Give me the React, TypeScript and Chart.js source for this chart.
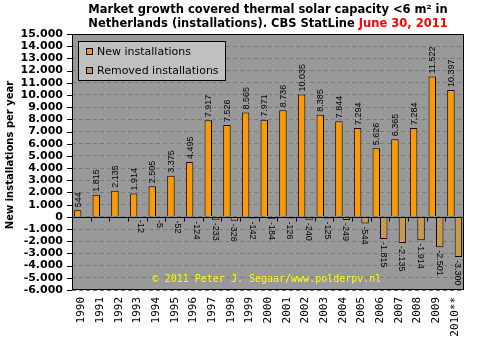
import React, { useEffect, useRef } from 'react';
import { Chart, registerables } from 'chart.js';

Chart.register(...registerables);

const years = ['1990', '1991', '1992', '1993', '1994', '1995', '1996', '1997', '1998', '1999', '2000', '2001', '2002', '2003', '2004', '2005', '2006', '2007', '2008', '2009', '2010**'];
const newInstallations = [544, 1815, 2135, 1914, 2505, 3375, 4495, 7917, 7526, 8565, 7971, 8736, 10035, 8385, 7844, 7294, 5626, 6365, 7284, 11522, 10397];
const removedInstallations = [null, null, null, -12, -5, -52, -124, -233, -326, -142, -184, -126, -240, -125, -249, -544, -1815, -2135, -1914, -2501, -3300];
const yMin = -6000;
const yMax = 15000;
const yStep = 1000;
const seriesNames = ['New installations', 'Removed installations'];
const titleLine1 = 'Market growth covered thermal solar capacity <6 m\u00b2 in';
const titleLine2a = 'Netherlands (installations). CBS StatLine ';
const titleLine2b = 'June 30, 2011';
const yTitle = 'New installations per year';
const watermark = '\u00a9 2011 Peter J. Segaar/www.polderpv.nl';

const ORANGE = '#FF9900';
const PLOT_BG = '#999999';

function fmt(v: number): string {
  const s = Math.abs(v).toString().replace(/\B(?=(\d{3})+(?!\d))/g, '.');
  return (v < 0 ? '-' : '') + s;
}

function makeHatch(): CanvasPattern | string {
  const c = document.createElement('canvas');
  c.width = 4;
  c.height = 4;
  const g = c.getContext('2d');
  if (!g) return ORANGE;
  g.fillStyle = ORANGE;
  g.fillRect(0, 0, 4, 4);
  g.fillStyle = '#999999';
  const px = [[0, 3], [1, 2], [2, 1], [3, 0], [1, 3], [2, 2], [3, 1], [0, 0]];
  px.forEach(([x, y]) => g.fillRect(x, y, 1, 1));
  const p = g.createPattern(c, 'repeat');
  return p || ORANGE;
}

export default function App() {
  const ref = useRef<HTMLCanvasElement | null>(null);

  useEffect(() => {
    if (!ref.current) return;
    const hatch = makeHatch();

    const decor = {
      id: 'decor',
      beforeDraw(chart: any) {
        const { ctx, chartArea: a } = chart;
        ctx.save();
        ctx.fillStyle = '#ffffff';
        ctx.fillRect(0, 0, chart.width, chart.height);
        ctx.fillStyle = PLOT_BG;
        ctx.fillRect(a.left, a.top, a.right - a.left, a.bottom - a.top);
        ctx.restore();
      },
      afterDatasetsDraw(chart: any) {
        const { ctx, chartArea: a } = chart;
        const ys = chart.scales.y;
        ctx.save();
        const y0 = Math.round(ys.getPixelForValue(0)) + 0.5;
        ctx.strokeStyle = '#000';
        ctx.lineWidth = 1;
        ctx.beginPath();
        ctx.moveTo(a.left, y0);
        ctx.lineTo(a.right, y0);
        const n = years.length;
        const w = (a.right - a.left) / n;
        for (let i = 1; i < n; i++) {
          const x = Math.round(a.left + i * w) + 0.5;
          ctx.moveTo(x, y0);
          ctx.lineTo(x, y0 + 4);
        }
        ctx.stroke();

        ctx.fillStyle = '#000';
        ctx.font = '9px "Liberation Sans", Arial, sans-serif';
        ctx.textBaseline = 'middle';
        ctx.textAlign = 'left';
        chart.data.datasets.forEach((ds: any, di: number) => {
          const meta = chart.getDatasetMeta(di);
          meta.data.forEach((el: any, i: number) => {
            const v = ds.data[i];
            if (v === null || v === undefined) return;
            ctx.save();
            if (v >= 0) {
              ctx.translate(el.x, el.y - 3);
              ctx.rotate(-Math.PI / 2);
            } else {
              ctx.translate(el.x, el.y + 3);
              ctx.rotate(Math.PI / 2);
            }
            ctx.fillText(fmt(v), 0, 0.5);
            ctx.restore();
          });
        });
        ctx.restore();
      },
      afterDraw(chart: any) {
        const { ctx, chartArea: a } = chart;
        const ys = chart.scales.y;
        ctx.save();
        ctx.strokeStyle = '#000';
        ctx.lineWidth = 1;
        ctx.strokeRect(Math.round(a.left) + 0.5, Math.round(a.top) + 0.5, Math.round(a.right - a.left) - 1, Math.round(a.bottom - a.top) - 1);
        ctx.beginPath();
        for (let v = yMin; v <= yMax; v += yStep) {
          const y = Math.round(ys.getPixelForValue(v)) + 0.5;
          ctx.moveTo(a.left - 5, y);
          ctx.lineTo(a.left, y);
        }
        ctx.stroke();

        const cx = (a.left + a.right) / 2;
        ctx.font = 'bold 11.5px "DejaVu Sans", Verdana, sans-serif';
        ctx.textBaseline = 'middle';
        ctx.textAlign = 'center';
        ctx.fillStyle = '#000';
        ctx.fillText(titleLine1, cx, 10);
        const wA = ctx.measureText(titleLine2a).width;
        const wB = ctx.measureText(titleLine2b).width;
        const startX = cx - (wA + wB) / 2;
        ctx.textAlign = 'left';
        ctx.fillText(titleLine2a, startX, 24);
        ctx.fillStyle = '#FF0000';
        ctx.fillText(titleLine2b, startX + wA, 24);

        ctx.save();
        ctx.translate(10, 155);
        ctx.rotate(-Math.PI / 2);
        ctx.textAlign = 'center';
        ctx.fillStyle = '#000';
        ctx.font = 'bold 10px "DejaVu Sans", Verdana, sans-serif';
        ctx.fillText(yTitle, 0, 0);
        ctx.restore();

        ctx.font = '10px "DejaVu Sans Mono", monospace';
        ctx.fillStyle = '#FFFF00';
        ctx.textAlign = 'center';
        ctx.fillText(watermark, cx - 1, 279);

        const lx = 78, ly = 41, lw = 148, lh = 40;
        ctx.fillStyle = '#C0C0C0';
        ctx.fillRect(lx, ly, lw, lh);
        ctx.strokeStyle = '#000';
        ctx.strokeRect(lx + 0.5, ly + 0.5, lw - 1, lh - 1);
        ctx.font = '11px "DejaVu Sans", Verdana, sans-serif';
        ctx.textAlign = 'left';
        const items = [ORANGE, hatch];
        seriesNames.forEach((name, i) => {
          const yy = 51 + i * 19;
          ctx.fillStyle = items[i] as any;
          ctx.fillRect(86, yy - 3, 7, 7);
          ctx.strokeStyle = '#000';
          ctx.strokeRect(86.5, yy - 2.5, 6, 6);
          ctx.fillStyle = '#000';
          ctx.fillText(name, 97, yy + 1);
        });
        ctx.restore();
      },
    };

    const chart = new Chart(ref.current, {
      type: 'bar',
      data: {
        labels: years,
        datasets: [
          {
            label: seriesNames[0],
            data: newInstallations,
            backgroundColor: ORANGE,
            borderColor: '#000',
            borderWidth: 1,
            categoryPercentage: 0.8,
            barPercentage: 1.0,
          },
          {
            label: seriesNames[1],
            data: removedInstallations as any,
            backgroundColor: hatch as any,
            borderColor: '#000',
            borderWidth: 1,
            categoryPercentage: 0.8,
            barPercentage: 1.0,
          },
        ],
      },
      options: {
        responsive: false,
        animation: false,
        layout: { padding: { top: 34, right: 17, left: 0, bottom: 0 } },
        plugins: {
          legend: { display: false },
          title: { display: false },
          tooltip: { enabled: false },
        },
        scales: {
          x: {
            grid: { display: false, drawTicks: false },
            border: { display: false },
            ticks: {
              autoSkip: false,
              minRotation: 90,
              maxRotation: 90,
              padding: 7,
              color: '#000',
              font: { family: '"DejaVu Sans Mono", monospace', size: 11 },
            },
            afterFit(scale: any) {
              scale.height = 61;
            },
          },
          y: {
            min: yMin,
            max: yMax,
            grid: { color: '#7a7a7a', drawTicks: false, lineWidth: 1 },
            border: { display: false, dash: [4, 3] },
            ticks: {
              stepSize: yStep,
              autoSkip: false,
              maxTicksLimit: 40,
              padding: 9,
              color: '#000',
              font: { family: '"DejaVu Sans", Verdana, sans-serif', size: 11, weight: 'bold' },
              callback: (v: any) => fmt(Number(v)),
            },
            afterFit(scale: any) {
              scale.width = 72;
            },
          },
        },
      },
      plugins: [decor],
    });

    return () => chart.destroy();
  }, []);

  return (
    <div style={{ position: 'fixed', left: 0, top: 0, width: 481, height: 351, background: '#fff' }}>
      <canvas ref={ref} width={481} height={351} style={{ display: 'block' }} />
    </div>
  );
}
